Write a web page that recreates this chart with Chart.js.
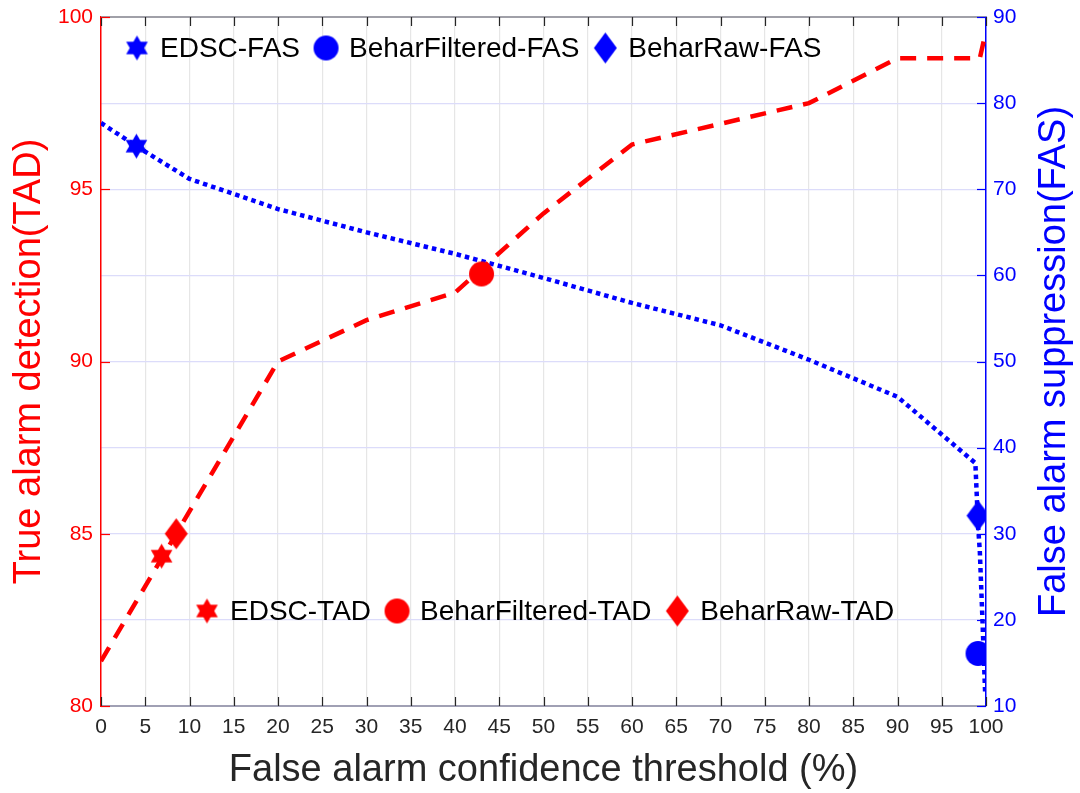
<!DOCTYPE html>
<html>
<head>
<meta charset="utf-8">
<script src="https://cdn.jsdelivr.net/npm/chart.js@4/dist/chart.umd.min.js"></script>
<style>
  html, body { margin: 0; padding: 0; background: #fff; }
  #wrap { width: 1080px; height: 793px; }
</style>
</head>
<body>
<div id="wrap"><canvas id="chart" width="1080" height="793"></canvas></div>
<script>
'use strict'

// true alarm detection curve (left axis)
const tadX = [0, 20, 30, 40, 50, 60, 70, 80, 90, 99.3, 100];
const tadY = [81.3, 90, 91.2, 92, 94.3, 96.3, 96.9, 97.5, 98.8, 98.8, 99.6];

// false alarm suppression curve (right axis)
const fasX = [0, 4, 10, 20, 30, 40, 50, 60, 70, 80, 90, 98.8, 99.1, 99.3, 99.6, 99.9];
const fasY = [77.7, 75, 71.2, 67.7, 65.0, 62.5, 59.7, 56.8, 54.2, 50.2, 45.9, 38.2, 31, 28, 20, 11.6];

// single marker points
const tadMarkerNames = ['EDSC-TAD', 'BeharFiltered-TAD', 'BeharRaw-TAD'];
const tadMarkerX = [6.85, 43.0, 8.5];
const tadMarkerY = [84.35, 92.54, 85.0];

const fasMarkerNames = ['EDSC-FAS', 'BeharFiltered-FAS', 'BeharRaw-FAS'];
const fasMarkerX = [4, 99.1, 99.1];
const fasMarkerY = [75.0, 16.1, 32.1];

// tick settings
const xTicks = { min: 0, max: 100, step: 5 };
const leftTicks = { min: 80, max: 100, step: 5 };
const rightTicks = { min: 10, max: 90, step: 10 };

const rightTitle = 'False alarm suppression(FAS)';

const RED = '#ff0000';
const BLUE = '#0000ff';
const FONT = "'Liberation Sans', Arial, Helvetica, sans-serif";
const TICK_SIZE = 21;

// marker pictures (hexagram, circle, diamond)
function hexagram(color, r) {
  const s = Math.ceil(2 * r + 2);
  const c = document.createElement('canvas');
  c.width = s; c.height = s;
  const g = c.getContext('2d');
  g.fillStyle = color;
  const cx = s / 2, cy = s / 2;
  [-Math.PI / 2, Math.PI / 2].forEach(function (rot) {
    g.beginPath();
    for (let i = 0; i < 3; i++) {
      const a = rot + i * 2 * Math.PI / 3;
      g.lineTo(cx + r * Math.cos(a), cy + r * Math.sin(a));
    }
    g.closePath();
    g.fill();
  });
  return c;
}
function disc(color, r) {
  const s = Math.ceil(2 * r + 2);
  const c = document.createElement('canvas');
  c.width = s; c.height = s;
  const g = c.getContext('2d');
  g.fillStyle = color;
  g.beginPath();
  g.arc(s / 2, s / 2, r, 0, Math.PI * 2);
  g.fill();
  return c;
}
function diamond(color, w, h) {
  const c = document.createElement('canvas');
  c.width = w + 2; c.height = h + 2;
  const g = c.getContext('2d');
  g.fillStyle = color;
  const cx = c.width / 2, cy = c.height / 2;
  g.beginPath();
  g.moveTo(cx, cy - h / 2);
  g.lineTo(cx + w / 2, cy);
  g.lineTo(cx, cy + h / 2);
  g.lineTo(cx - w / 2, cy);
  g.closePath();
  g.fill();
  return c;
}

const redShapes = [hexagram(RED, 12.5), disc(RED, 12.5), diamond(RED, 23, 31)];
const blueShapes = [hexagram(BLUE, 12.5), disc(BLUE, 12.5), diamond(BLUE, 23, 31)];

function toPoints(xs, ys) {
  return xs.map(function (x, i) { return { x: x, y: ys[i] }; });
}

const datasets = [
  {
    label: 'TAD',
    data: toPoints(tadX, tadY),
    yAxisID: 'yL',
    borderColor: RED,
    borderWidth: 4.5,
    borderDash: [16, 11],
    pointRadius: 0,
    fill: false,
    tension: 0,
    order: 3
  },
  {
    label: 'FAS',
    data: toPoints(fasX, fasY),
    yAxisID: 'yR',
    borderColor: BLUE,
    borderWidth: 4.5,
    borderDash: [4.5, 4],
    pointRadius: 0,
    fill: false,
    tension: 0,
    order: 2
  }
];

tadMarkerNames.forEach(function (name, i) {
  datasets.push({
    label: name,
    data: [{ x: tadMarkerX[i], y: tadMarkerY[i] }],
    yAxisID: 'yL',
    showLine: false,
    pointStyle: redShapes[i],
    legendGroup: 'tad',
    order: 1
  });
});
fasMarkerNames.forEach(function (name, i) {
  datasets.push({
    label: name,
    data: [{ x: fasMarkerX[i], y: fasMarkerY[i] }],
    yAxisID: 'yR',
    showLine: false,
    pointStyle: blueShapes[i],
    legendGroup: 'fas',
    order: 1
  });
});

// MATLAB style: inward ticks, top border, right title read upward, two marker legends
const boxPlugin = {
  id: 'boxPlugin',
  afterDraw(chart) {
    const ctx = chart.ctx;
    const a = chart.chartArea;
    const xs = chart.scales.x, yl = chart.scales.yL, yr = chart.scales.yR;
    const len = 9;
    ctx.save();
    // top border
    ctx.strokeStyle = '#a0a0a8';
    ctx.lineWidth = 2;
    ctx.beginPath();
    ctx.moveTo(a.left, a.top);
    ctx.lineTo(a.right, a.top);
    ctx.stroke();
    // x ticks, bottom and top
    ctx.lineWidth = 1.2;
    ctx.strokeStyle = '#262626';
    xs.ticks.forEach(function (t) {
      const px = Math.round(xs.getPixelForValue(t.value)) + 0.5;
      ctx.beginPath();
      ctx.moveTo(px, a.bottom); ctx.lineTo(px, a.bottom - len);
      ctx.moveTo(px, a.top); ctx.lineTo(px, a.top + len);
      ctx.stroke();
    });
    ctx.strokeStyle = RED;
    yl.ticks.forEach(function (t) {
      const py = Math.round(yl.getPixelForValue(t.value)) + 0.5;
      ctx.beginPath();
      ctx.moveTo(a.left, py); ctx.lineTo(a.left + len, py);
      ctx.stroke();
    });
    ctx.strokeStyle = BLUE;
    yr.ticks.forEach(function (t) {
      const py = Math.round(yr.getPixelForValue(t.value)) + 0.5;
      ctx.beginPath();
      ctx.moveTo(a.right, py); ctx.lineTo(a.right - len, py);
      ctx.stroke();
    });

    // right axis title, bottom to top like the left one
    ctx.save();
    ctx.translate(yr.right - 25, (a.top + a.bottom) / 2);
    ctx.rotate(-Math.PI / 2);
    ctx.font = '38px ' + FONT;
    ctx.fillStyle = BLUE;
    ctx.textAlign = 'center';
    ctx.textBaseline = 'middle';
    ctx.fillText(rightTitle, 0, 0);
    ctx.restore();

    // legends
    ctx.font = '28px ' + FONT;
    ctx.fillStyle = '#000';
    ctx.textBaseline = 'middle';
    ctx.textAlign = 'left';
    function legend(group, startX, cy) {
      let x = startX;
      chart.data.datasets.forEach(function (ds) {
        if (ds.legendGroup !== group) return;
        const img = ds.pointStyle;
        ctx.drawImage(img, x - img.width / 2, cy - img.height / 2);
        ctx.fillText(ds.label, x + 23, cy + 1);
        x = x + 23 + ctx.measureText(ds.label).width + 26;
      });
    }
    legend('fas', a.left + 36, a.top + 31);
    legend('tad', a.left + 106, a.top + 594);
    ctx.restore();
  }
};

const ctx = document.getElementById('chart').getContext('2d');
const chart = new Chart(ctx, {
  type: 'line',
  data: { datasets: datasets },
  plugins: [boxPlugin],
  options: {
    responsive: false,
    animation: false,
    layout: { padding: { top: 17, left: 0, right: 0, bottom: 0 } },
    plugins: {
      legend: { display: false },
      tooltip: { enabled: false }
    },
    scales: {
      x: {
        type: 'linear',
        min: xTicks.min,
        max: xTicks.max,
        ticks: {
          stepSize: xTicks.step,
          color: '#262626',
          font: { family: FONT, size: TICK_SIZE },
          padding: 9,
          maxRotation: 0,
          autoSkip: false
        },
        grid: { color: '#e6e6e6', lineWidth: 1.2, drawTicks: false },
        border: { color: '#a0a0b4', width: 2 },
        title: {
          display: true,
          text: 'False alarm confidence threshold (%)',
          color: '#262626',
          font: { family: FONT, size: 38 },
          padding: { top: 3, bottom: 0 }
        },
        afterFit(s) { s.height = 87; }
      },
      yL: {
        type: 'linear',
        position: 'left',
        min: leftTicks.min,
        max: leftTicks.max,
        ticks: {
          stepSize: leftTicks.step,
          color: RED,
          font: { family: FONT, size: TICK_SIZE },
          padding: 8
        },
        grid: { color: 'rgba(0,0,0,0)', drawTicks: false },
        border: { color: RED, width: 1.5 },
        title: {
          display: true,
          text: 'True alarm detection(TAD)',
          color: RED,
          font: { family: FONT, size: 38 },
          padding: { top: 7, bottom: 0 }
        },
        afterFit(s) { s.width = 101; s.paddingTop = 0; s.paddingBottom = 0; }
      },
      yR: {
        type: 'linear',
        position: 'right',
        min: rightTicks.min,
        max: rightTicks.max,
        ticks: {
          stepSize: rightTicks.step,
          color: BLUE,
          font: { family: FONT, size: TICK_SIZE },
          padding: 7
        },
        grid: { color: '#dcdcfa', lineWidth: 1.2, drawTicks: false },
        border: { color: BLUE, width: 1.5 },
        title: { display: false },
        afterFit(s) { s.width = 94; s.paddingTop = 0; s.paddingBottom = 0; }
      }
    }
  }
});
</script>
</body>
</html>
